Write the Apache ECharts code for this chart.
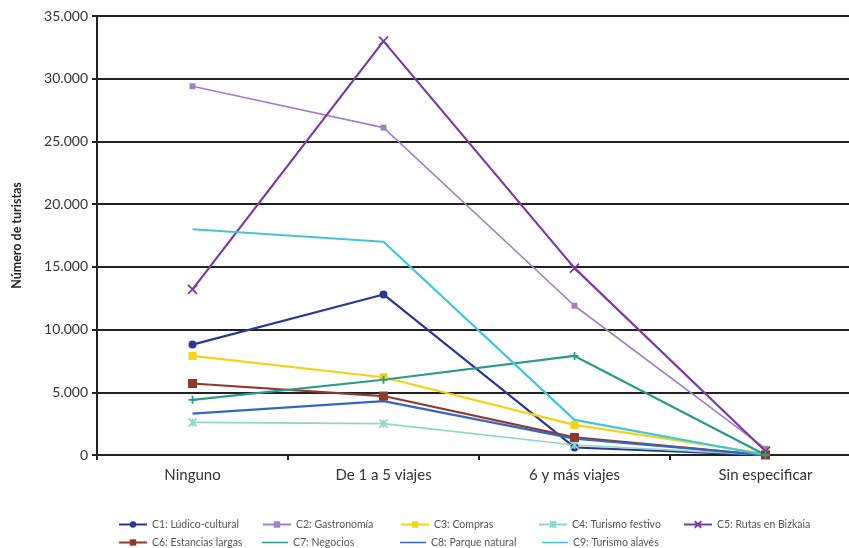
<!DOCTYPE html>
<html><head><meta charset="utf-8">
<script src="https://cdn.jsdelivr.net/npm/echarts@6/dist/echarts.min.js"></script>
<style>html,body{margin:0;padding:0;background:#fff;overflow:hidden;width:849px;height:548px}#c{width:872px;height:548px}</style>
</head><body><div id="c"></div>
<script>
const categories = ['Ninguno', 'De 1 a 5 viajes', '6 y más viajes', 'Sin especificar'];
const seriesNames = ['C1: Lúdico-cultural','C2: Gastronomía','C3: Compras','C4: Turismo festivo','C5: Rutas en Bizkaia','C6: Estancias largas','C7: Negocios','C8: Parque natural','C9: Turismo alavés'];
const c1 = [8800, 12800, 600, 0];
const c2 = [29400, 26100, 11900, 500];
const c3 = [7900, 6200, 2400, 100];
const c4 = [2600, 2500, 800, 0];
const c5 = [13200, 33000, 14900, 300];
const c6 = [5700, 4700, 1400, 0];
const c7 = [4400, 6000, 7900, 0];
const c8 = [3300, 4300, 1300, 0];
const c9 = [18000, 17000, 2800, 0];
const yTicks = [0, 5000, 10000, 15000, 20000, 25000, 30000, 35000];

const values = [c1,c2,c3,c4,c5,c6,c7,c8,c9];
const colors = ['#2a3990','#a47fc4','#f3d21a','#8ed6cc','#7a3c9e','#8e3a2c','#2a9a8c','#3566c4','#44c6d8'];
const symbols = ['circle','rect','rect','path://M0,0L10,10M10,0L0,10M5,0L5,10','path://M0,0L10,10M10,0L0,10','rect','path://M5,0L5,10M0,5L10,5','none','none'];
const symbolSizes = [8,6,8,8,9,9,8,0,0];
const widths = [2.2,1.6,2.2,1.6,2.2,2.2,2.2,2.2,2.2];
const legendIcons = [null,null,null,null,null,null,'rect','rect','rect'];

const fmt = v => String(v).replace(/\B(?=(\d{3})+(?!\d))/g, '.');

const legendPos = [[113,514],[257,514],[395,514],[533,514],[678,514],[113,532],[257,532],[395,532],[537,532]];
const legends = seriesNames.map((n,i)=>{
  const l = {
    data:[n], left: legendPos[i][0], top: legendPos[i][1], itemWidth: 28, itemHeight: 8, itemGap: 6,
    textStyle:{fontFamily:'Lato', fontSize:10.5, color:'#555'}
  };
  if (legendIcons[i]) { l.icon = 'rect'; l.itemHeight = 1.5; l.itemWidth = 26; l.itemStyle = {borderWidth:0}; }
  return l;
});

const series = seriesNames.map((n,i)=>({
  name:n, type:'line', data: values[i], color: colors[i],
  symbol: symbols[i], symbolSize: symbolSizes[i], showSymbol: symbols[i] !== 'none',
  lineStyle:{width: widths[i], color: colors[i]},
  itemStyle:{color: colors[i], borderColor: colors[i], borderWidth: (symbols[i].startsWith('path')?1.8:0)},
  animation:false
}));

const chart = echarts.init(document.getElementById('c'), null, {renderer:'canvas'});
chart.setOption({
  animation:false,
  backgroundColor:'#fff',
  grid:{left:97, top:16, right:11, bottom:93, containLabel:false},
  legend: legends,
  xAxis:{type:'category', data: categories, boundaryGap:true,
    axisLine:{lineStyle:{color:'#222', width:2}},
    axisTick:{show:true, length:5, lineStyle:{color:'#222', width:2}},
    axisLabel:{fontFamily:'Lato', fontSize:15, color:'#333', margin:13}
  },
  yAxis:{type:'value', min:0, max:35000, interval:5000,
    name:'Número de turistas', nameLocation:'middle', nameGap:74, nameRotate:90,
    nameTextStyle:{fontFamily:'Lato', fontSize:12.5, fontWeight:'bold', color:'#222'},
    axisLine:{show:true, lineStyle:{color:'#222', width:2}},
    axisTick:{show:true, length:5, lineStyle:{color:'#222', width:2}},
    axisLabel:{fontFamily:'Lato', fontSize:14, color:'#333', margin:9, formatter: v => yTicks.includes(v) ? fmt(v) : ''},
    splitLine:{show:true, lineStyle:{color:'#222', width:2}}
  },
  series: series
});
</script></body></html>
